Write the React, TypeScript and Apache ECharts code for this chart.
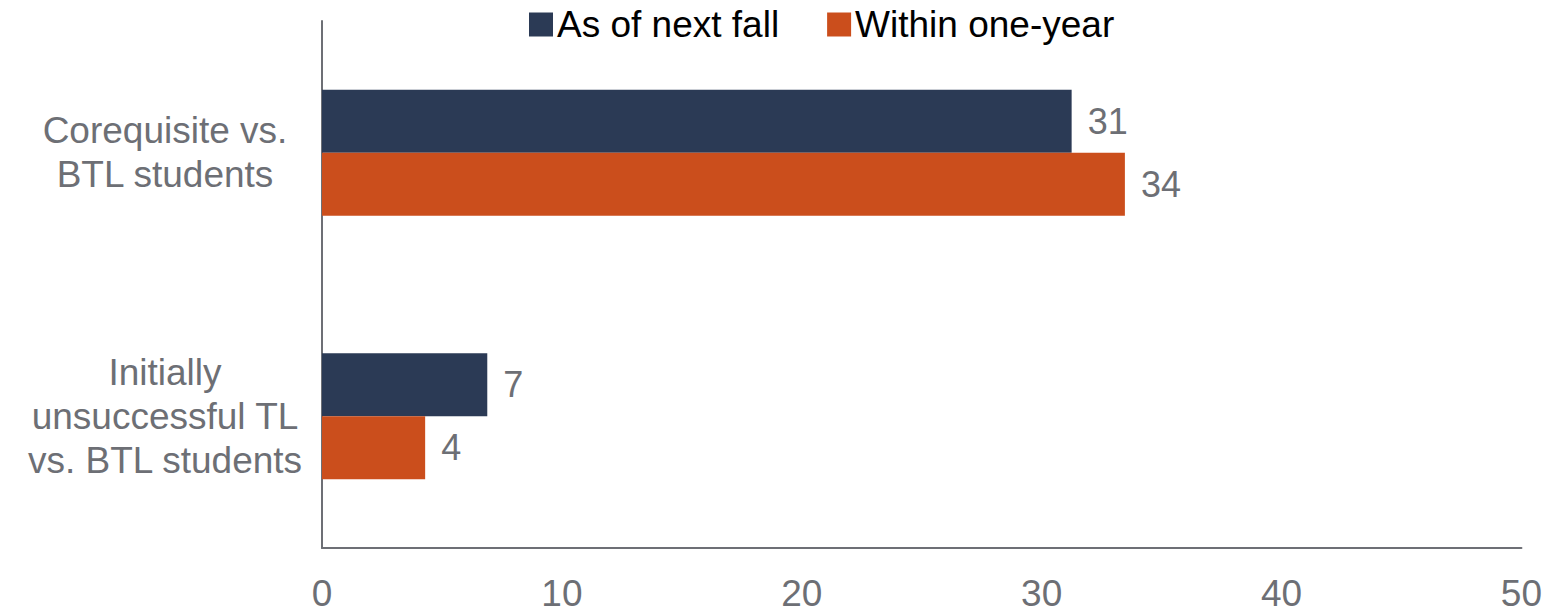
import React, { useEffect, useRef } from "react";
import * as echarts from "echarts";

const categories = ["Corequisite vs.\nBTL students", "Initially\nunsuccessful TL\nvs. BTL students"];
const seriesNames = ["As of next fall", "Within one-year"];
const nextFallValues = [31.25, 6.89];
const oneYearValues = [33.47, 4.3];
const nextFallLabels = ["31", "7"];
const oneYearLabels = ["34", "4"];
const xTicks = { min: 0, max: 50, interval: 10 };

const FONT = "Liberation Sans, Arial, sans-serif";
const GRAY = "#6d6f75";

export default function App() {
  const ref = useRef<HTMLDivElement>(null);
  useEffect(() => {
    document.body.style.margin = "0";
    if (!ref.current) return;
    const chart = echarts.init(ref.current, null, { renderer: "svg" });
    const labelStyle = (labels: string[]) => ({
      show: true,
      position: "right" as const,
      distance: 16,
      color: GRAY,
      fontSize: 36,
      fontFamily: FONT,
      formatter: (p: any) => labels[p.dataIndex],
    });
    chart.setOption({
      animation: false,
      textStyle: { fontFamily: FONT },
      legend: {
        top: 1,
        left: 524,
        itemWidth: 24,
        itemHeight: 24,
        itemGap: 48,
        icon: "rect",
        textStyle: { fontSize: 37, color: "#000", fontFamily: FONT, padding: [0, 0, 0, -1] },
        data: seriesNames,
      },
      grid: { left: 322, right: 21, top: 21, bottom: 65, containLabel: false },
      xAxis: {
        type: "value",
        min: xTicks.min,
        max: xTicks.max,
        interval: xTicks.interval,
        axisLine: { show: true, lineStyle: { color: GRAY, width: 2 } },
        axisTick: { show: false },
        splitLine: { show: false },
        axisLabel: { color: GRAY, fontSize: 37, lineHeight: 36, fontFamily: FONT, margin: 27 },
      },
      yAxis: {
        type: "category",
        inverse: true,
        data: categories,
        axisLine: { show: true, lineStyle: { color: GRAY, width: 2 } },
        axisTick: { show: false },
        axisLabel: {
          color: GRAY,
          fontSize: 37,
          fontFamily: FONT,
          lineHeight: 44,
          align: "center",
          margin: 157,
        },
      },
      series: [
        {
          name: seriesNames[0],
          type: "bar",
          data: nextFallValues,
          barWidth: 63,
          barGap: "0%",
          itemStyle: { color: "#2b3a55" },
          label: labelStyle(nextFallLabels),
        },
        {
          name: seriesNames[1],
          type: "bar",
          data: oneYearValues,
          barWidth: 63,
          barGap: "0%",
          itemStyle: { color: "#cb4e1c" },
          label: labelStyle(oneYearLabels),
        },
      ],
    });
    return () => chart.dispose();
  }, []);
  return <div ref={ref} style={{ width: 1545, height: 613 }} />;
}
